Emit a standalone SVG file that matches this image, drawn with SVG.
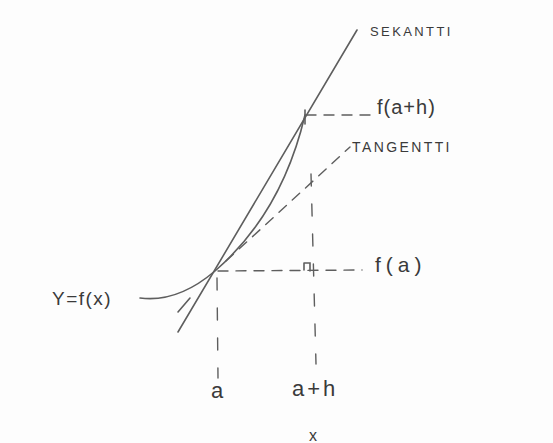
<svg xmlns="http://www.w3.org/2000/svg" width="553" height="443" viewBox="0 0 553 443">
<style>
.bg{fill:#fdfdfd}
.solid{fill:none;stroke:#5e5e5e;stroke-width:1.6;stroke-linecap:round}
.dash{fill:none;stroke:#5e5e5e;stroke-width:1.4;stroke-dasharray:10 8;stroke-linecap:round}
.vdash{fill:none;stroke:#5e5e5e;stroke-width:1.4;stroke-dasharray:12 18;stroke-linecap:round}
.lbl{font-family:"Liberation Sans",Arial,sans-serif;fill:#3a3a3a}
</style>
<rect class="bg" x="0" y="0" width="553" height="443"/>
<g id="connectors">
<line class="dash" x1="306" y1="115" x2="372" y2="115"/>
<line class="dash" x1="218" y1="271" x2="362" y2="270"/>
<line class="vdash" x1="217" y1="278" x2="218" y2="378"/>
<line class="vdash" x1="311" y1="174" x2="316" y2="364"/>
<line class="dash" x1="226" y1="261" x2="350" y2="147"/>
<line class="solid" x1="178" y1="312" x2="190" y2="298"/>
<path class="solid" d="M304,263 L304,270 M304,263 L310,263 L310,271"/>
<line class="solid" x1="305" y1="110" x2="305" y2="124"/>
</g>
<g id="secant"><line class="solid" x1="357" y1="30" x2="178" y2="332"/></g>
<g id="curve"><path class="solid" d="M140,298 C170,302 195,288 215,271 C245,245 285,200 305,115"/></g>
<g id="labels">
<text class="lbl" x="370" y="36" font-size="13" letter-spacing="2.4">SEKANTTI</text>
<text class="lbl" x="377" y="114" font-size="20" letter-spacing="1">f(a+h)</text>
<text class="lbl" x="352" y="152" font-size="14" letter-spacing="2.4">TANGENTTI</text>
<text class="lbl" x="375" y="272" font-size="21" letter-spacing="5">f(a)</text>
<text class="lbl" x="52" y="305" font-size="19" letter-spacing="1.5">Y=f(x)</text>
<text class="lbl" x="211" y="398" font-size="22">a</text>
<text class="lbl" x="292" y="396" font-size="22" letter-spacing="3">a+h</text>
<text class="lbl" x="309" y="441" font-size="16">x</text>
</g>
</svg>
